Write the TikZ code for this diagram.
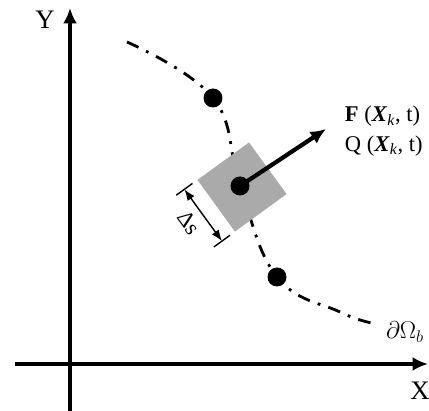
\documentclass[tikz,border=0pt]{standalone}
\usepackage{fontspec}
\setmainfont{Liberation Serif}
\usepackage{xcolor}
\usetikzlibrary{arrows.meta}
\definecolor{elemgray}{RGB}{170,170,170}

\begin{document}
\begin{tikzpicture}[x=0.025cm,y=0.025cm,
  axis/.style={line width=2.8pt,-{Latex[length=11pt,width=10pt]}},
  boundary/.style={line width=2pt,dash pattern=on 9pt off 6pt on 2pt off 6pt},
  marker/.style={circle,fill=black,inner sep=0pt,minimum size=13.5pt},
  force/.style={line width=3pt,-{Latex[length=11pt,width=10pt]}},
  dim/.style={line width=1pt,{Latex[length=8pt,width=6pt]}-{Latex[length=8pt,width=6pt]}},
  lbl/.style={font=\fontsize{16}{21}\selectfont},
  axlbl/.style={font=\fontsize{19}{21}\selectfont}]
\def\ang{36}
\pgfmathsetmacro\side{64*0.709}
\useasboundingbox (0,0) rectangle (429,411);
% Axes
\coordinate (xs) at (15,47);
\coordinate (xe) at (428,47);
\coordinate (ys) at (70,0);
\coordinate (ye) at (70,403);
\draw[axis] (xs) -- (xe);
\draw[axis] (ys) -- (ye);
\node[axlbl] (ylab) at (45,391) {Y};
\node[axlbl] (xlab) at (420,20) {X};
% Boundary curve
\draw[boundary] plot[smooth,tension=0.7] coordinates
  {(127,369) (213,313) (240,225) (277,134) (340,99) (372,88)};
\node[font=\fontsize{18}{21}\selectfont] (blab) at (405,79) {$\partial\Omega_b$};
% Boundary element
\node[rectangle,fill=elemgray,inner sep=0pt,minimum size=\side pt,rotate=\ang]
  (elem) at (242,224) {};
\node[marker] (p1) at (213,313) {};
\node[marker] (pc) at (240,225) {};
\node[marker] (p2) at (277,134) {};
% Force vector
\coordinate (ftip) at (326,282);
\draw[force] (pc.center) -- (ftip);
\node[lbl,align=left,anchor=west] (flux) at (340,280)
  {\textbf{F} (\textbf{\textit{X}}\textsubscript{\textit{k}}, t)\\
   Q (\textbf{\textit{X}}\textsubscript{\textit{k}}, t)};
% Element length
\begin{scope}[shift={(elem.center)},rotate=\ang]
\coordinate (t1a) at (-58,32);
\coordinate (t1b) at (-38,32);
\coordinate (t2a) at (-58,-32);
\coordinate (t2b) at (-38,-32);
\coordinate (d1) at (-48,32);
\coordinate (d2) at (-48,-32);
\draw[line width=1pt] (t1a) -- (t1b);
\draw[line width=1pt] (t2a) -- (t2b);
\draw[dim] (d1) -- (d2);
\node[lbl,rotate=-54,inner sep=1pt] (ds) at (-64,2) {Δs};
\end{scope}
\end{tikzpicture}
\end{document}
